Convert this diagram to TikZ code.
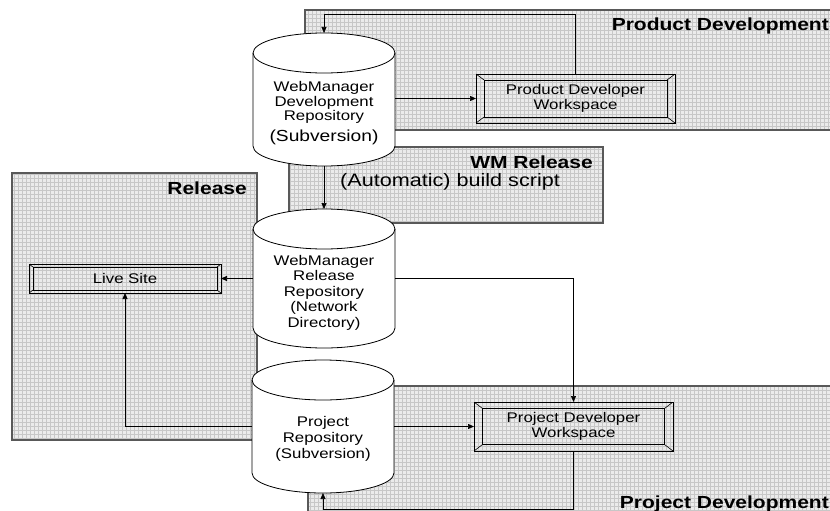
\documentclass[tikz,border=0pt]{standalone}
\usepackage{fontspec}
\setmainfont{Liberation Sans}[FakeStretch=1.2]
\usetikzlibrary{arrows.meta,calc}

\tikzset{
  region/.style={rectangle, inner sep=0pt, outer sep=0pt, draw=black!65, line width=1.2pt, fill=black!8,
    path picture={\draw[black!22, line width=0.3pt, step=4] (path picture bounding box.south west) grid (path picture bounding box.north east);}},
  title/.style={inner sep=0pt, font=\fontsize{17.5}{20}\selectfont\bfseries},
  subtitle/.style={inner sep=0pt, font=\fontsize{18}{20}\selectfont},
  cylbody/.style={draw=black, fill=white, line width=0.8pt},
  cylline/.style={draw=black, line width=0.8pt},
  cylbox/.style={rectangle, inner sep=0pt, outer sep=0pt, draw=none},
  cyltext/.style={inner sep=0pt, align=center},
  bevel/.style 2 args={rectangle, draw=black, line width=0.8pt, inner sep=0pt, outer sep=0pt, align=center,
    font=\fontsize{14}{15}\selectfont,
    path picture={
      \path (path picture bounding box.north west) coordinate (bvA)
            (path picture bounding box.south east) coordinate (bvB)
            (path picture bounding box.north east) coordinate (bvC)
            (path picture bounding box.south west) coordinate (bvD);
      \draw[line width=0.8pt] ($(bvA)+(#1,-#2)$) rectangle ($(bvB)+(-#1,#2)$);
      \draw[line width=0.6pt] (bvA) -- ++(#1,-#2) (bvC) -- ++(-#1,-#2)
            (bvB) -- ++(-#1,#2) (bvD) -- ++(#1,#2);
    }},
  conn/.style={draw=black, line width=0.7pt, -{Triangle[length=6pt,width=5pt]}}
}

\newcommand\mycyl[5]{%
  \filldraw[cylbody] ({#2-#5},{-#3-20}) -- ({#2-#5},{-#4+20})
     arc[start angle=180,end angle=360,x radius=#5,y radius=20]
     -- ({#2+#5},{-#3-20})
     arc[start angle=0,end angle=180,x radius=#5,y radius=20] -- cycle;
  \draw[cylline] ({#2-#5},{-#3-20}) arc[start angle=180,end angle=360,x radius=#5,y radius=20];
  \node[cylbox, minimum width={2*#5}, minimum height={#4-#3}] (#1) at (#2,{-(#3+#4)/2}) {};
}

\begin{document}
\begin{tikzpicture}[x=1pt,y=1pt]
\clip (0,0) rectangle (830,-511);
\fill[white] (0,0) rectangle (830,-511);

% regions
\node[region, anchor=north west, minimum width=527, minimum height=120] (pdreg) at (305,-10) {};
\node[region, anchor=north west, minimum width=314, minimum height=76] (wmreg) at (289,-147) {};
\node[region, anchor=north west, minimum width=245, minimum height=267] (relreg) at (12,-173) {};
\node[region, anchor=north west, minimum width=524, minimum height=129] (pjreg) at (308,-386) {};

% titles
\node[title, anchor=base east] (pdtitle) at (829,-31) {Product Development};
\node[title, anchor=base east] (wmtitle) at (593,-168) {WM Release};
\node[subtitle, anchor=base west] (wmsub) at (340,-186) {(Automatic) build script};
\node[title, anchor=base east] (reltitle) at (247,-194) {Release};
\node[title, anchor=base east] (pjtitle) at (829,-508) {Project Development};

% cylinders
\mycyl{dev}{324}{33}{166}{71}
\mycyl{rel}{324}{209}{348}{71}
\mycyl{proj}{323}{360}{493}{71}

\node[cyltext, font=\fontsize{14}{14.5}\selectfont] (devtxt) at (324,-112.9)
  {WebManager\\Development\\Repository\\[6pt]{\fontsize{16}{14.5}\selectfont (Subversion)}};
\node[cyltext, font=\fontsize{14}{15.5}\selectfont] (reltxt) at (324,-292.4)
  {WebManager\\Release\\Repository\\(Network\\Directory)};
\node[cyltext, font=\fontsize{14}{16}\selectfont] (projtxt) at (323,-438.4)
  {Project\\Repository\\(Subversion)};

% workspaces
\node[bevel={8}{6}, minimum width=199, minimum height=49] (pw) at (575.5,-98.5)
  {Product Developer\\Workspace};
\node[bevel={8.5}{6.5}, minimum width=199, minimum height=49] (jw) at (573.5,-426.5)
  {Project Developer\\Workspace};
\node[bevel={4}{3}, minimum width=192, minimum height=29] (live) at (125,-278.5)
  {Live Site};

% connectors
\draw[conn] (dev.east |- pw.west) -- (pw.west);
\draw[conn] (pw.north) -- ++(0,60) -| (dev.north);
\draw[conn] (dev.south) -- (rel.north);
\draw[conn] (rel.west) -- (live.east);
\draw[conn] (rel.east) -| (jw.north);
\draw[conn] (proj.east) -- (jw.west);
\draw[conn] (proj.west) -| (live.south);
\draw[conn] (jw.south) -- ++(0,-58) -| (proj.south);
\end{tikzpicture}
\end{document}
